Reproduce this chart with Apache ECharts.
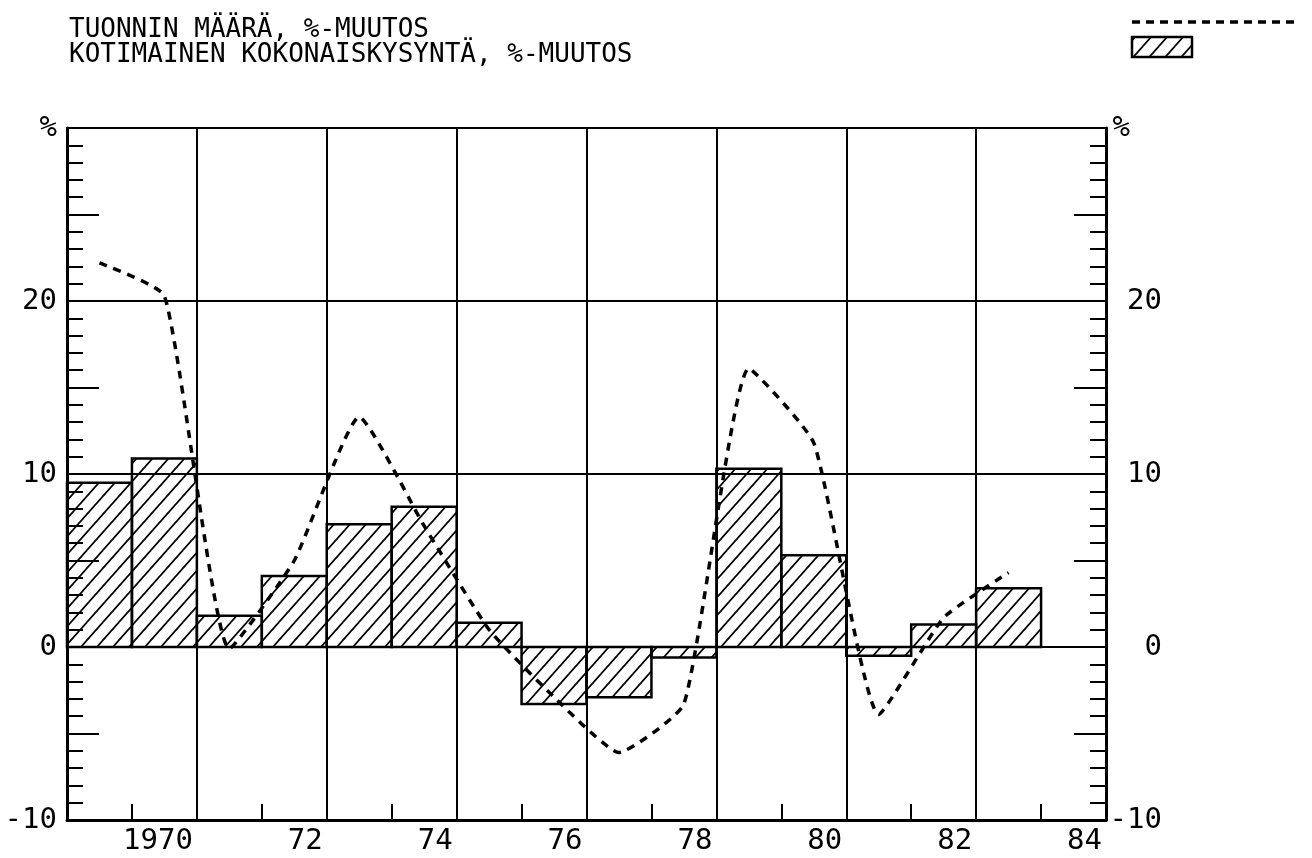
<!DOCTYPE html>
<html><head><meta charset="utf-8">
<script src="https://cdn.jsdelivr.net/npm/echarts@6/dist/echarts.min.js"></script>
<style>html,body{margin:0;padding:0;background:#fff}#c{width:1312px;height:858px}</style>
</head><body><div id="c"></div>
<script>
const titleLines = ['TUONNIN MÄÄRÄ, %-MUUTOS', 'KOTIMAINEN KOKONAISKYSYNTÄ, %-MUUTOS'];
const years = [1969,1970,1971,1972,1973,1974,1975,1976,1977,1978,1979,1980,1981,1982,1983];
const demandChange = [9.5, 10.9, 1.8, 4.1, 7.1, 8.1, 1.4, -3.3, -2.9, -0.6, 10.3, 5.3, -0.5, 1.3, 3.4];
const importChange = [22.2, 20.3, -0.1, 5.0, 13.3, 7.0, 1.0, -2.9, -6.1, -3.3, 16.1, 11.8, -3.9, 1.7, 4.3];
const xTickYears = [1970,1972,1974,1976,1978,1980,1982,1984];
const xTickLabels = ['1970','72','74','76','78','80','82','84'];
const yTickValues = [-10,0,10,20,30];
const yTickLabels = ['-10','0','10','20','%'];

const FONT = '"DejaVu Sans Mono", monospace';

function makeHatch() {
  const w = 16, h = 18;
  const c = document.createElement('canvas'); c.width = w; c.height = h;
  const g = c.getContext('2d');
  g.strokeStyle = '#000'; g.lineWidth = 1.8;
  g.beginPath();
  g.moveTo(-w * 0.2, h * 1.2); g.lineTo(w * 1.2, -h * 0.2);
  g.moveTo(-w * 0.2, h * 0.2); g.lineTo(w * 0.2, -h * 0.2);
  g.moveTo(w * 0.8, h * 1.2); g.lineTo(w * 1.2, h * 0.8);
  g.stroke();
  return c;
}
const hatch = makeHatch();
const hatchFill = () => ({ image: hatch, repeat: 'repeat' });

function yLabel(v) {
  const i = yTickValues.indexOf(v);
  return i >= 0 ? yTickLabels[i] : '';
}

const chart = echarts.init(document.getElementById('c'), null, { renderer: 'canvas' });
const axisLineStyle = { color: '#000', width: 3 };
const gridLineStyle = { color: '#000', width: 2 };

const option = {
  backgroundColor: '#fff',
  animation: false,
  textStyle: { fontFamily: FONT },
  grid: { left: 67, right: 206, top: 128, bottom: 38, show: true, borderColor: '#000', borderWidth: 2 },
  graphic: [
    { type: 'text', left: 69, top: 17, style: { text: titleLines.join('\n'), font: '26px ' + FONT, lineHeight: 25, fill: '#000' } },
    { type: 'line', shape: { x1: 1132, y1: 22, x2: 1298, y2: 22 }, style: { stroke: '#000', lineWidth: 3.5, lineDash: [8, 6] } },
    { type: 'rect', shape: { x: 1132, y: 37, width: 60, height: 20 }, style: { fill: hatchFill(), stroke: '#000', lineWidth: 2.5 } }
  ],
  xAxis: [{
    type: 'value', min: 1969, max: 1985, interval: 2, position: 'bottom',
    axisLine: { show: true, onZero: false, lineStyle: axisLineStyle },
    axisTick: { show: false, inside: true },
    minorTick: { show: true, splitNumber: 2, length: 16, lineStyle: { color: '#000', width: 2 } },
    splitLine: { show: true, lineStyle: gridLineStyle },
    axisLabel: {
      color: '#000', fontFamily: FONT, fontSize: 29, align: 'right', margin: 7, padding: [0, 4, 0, 0],
      formatter: v => { const i = xTickYears.indexOf(v - 1); return i >= 0 ? xTickLabels[i] : ''; }
    }
  }],
  yAxis: [
    {
      type: 'value', min: -10, max: 30, interval: 10, position: 'left',
      axisLine: { show: true, onZero: false, lineStyle: axisLineStyle },
      axisTick: { show: false, inside: true },
      minorTick: { show: true, splitNumber: 10, length: 16, lineStyle: { color: '#000', width: 2 } },
      splitLine: { show: true, lineStyle: gridLineStyle },
      axisLabel: { color: '#000', fontFamily: FONT, fontSize: 29, margin: 10, formatter: yLabel }
    },
    {
      type: 'value', min: -10, max: 30, interval: 10, position: 'right',
      axisLine: { show: true, onZero: false, lineStyle: axisLineStyle },
      axisTick: { show: false, inside: true },
      minorTick: { show: true, splitNumber: 10, length: 16, lineStyle: { color: '#000', width: 2 } },
      splitLine: { show: false },
      axisLabel: {
        color: '#000', fontFamily: FONT, fontSize: 29, margin: 56, align: 'right',
        formatter: v => v === 30 ? '{p|' + yLabel(v) + '}' : yLabel(v),
        rich: { p: { fontFamily: FONT, fontSize: 29, color: '#000', padding: [0, 32, 0, 0] } }
      }
    },
    {
      type: 'value', min: -10, max: 30, interval: 5, position: 'left',
      axisLine: { show: false, onZero: false }, axisLabel: { show: false }, splitLine: { show: false },
      axisTick: { show: true, inside: true, length: 32, lineStyle: { color: '#000', width: 2 } }
    },
    {
      type: 'value', min: -10, max: 30, interval: 5, position: 'right',
      axisLine: { show: false, onZero: false }, axisLabel: { show: false }, splitLine: { show: false },
      axisTick: { show: true, inside: true, length: 32, lineStyle: { color: '#000', width: 2 } }
    }
  ],
  series: [
    {
      type: 'custom', name: 'KOTIMAINEN KOKONAISKYSYNTÄ',
      xAxisIndex: 0, yAxisIndex: 0,
      encode: { x: 0, y: 1 },
      data: years.map((y, i) => [y, demandChange[i]]),
      renderItem: (params, api) => {
        const yr = api.value(0), v = api.value(1);
        const p0 = api.coord([yr, 0]);
        const p1 = api.coord([yr + 1, v]);
        return {
          type: 'rect',
          shape: { x: Math.min(p0[0], p1[0]), y: Math.min(p0[1], p1[1]), width: Math.abs(p1[0] - p0[0]), height: Math.abs(p1[1] - p0[1]) },
          style: { fill: hatchFill(), stroke: '#000', lineWidth: 2.5 }
        };
      },
      z: 2
    },
    {
      type: 'line', name: 'TUONNIN MÄÄRÄ',
      xAxisIndex: 0, yAxisIndex: 0,
      data: years.map((y, i) => [y + 0.5, importChange[i]]),
      smooth: 0.15, showSymbol: false,
      lineStyle: { color: '#000', width: 3.5, type: [8, 7] },
      z: 5
    }
  ]
};
chart.setOption(option);
</script>
</body></html>
